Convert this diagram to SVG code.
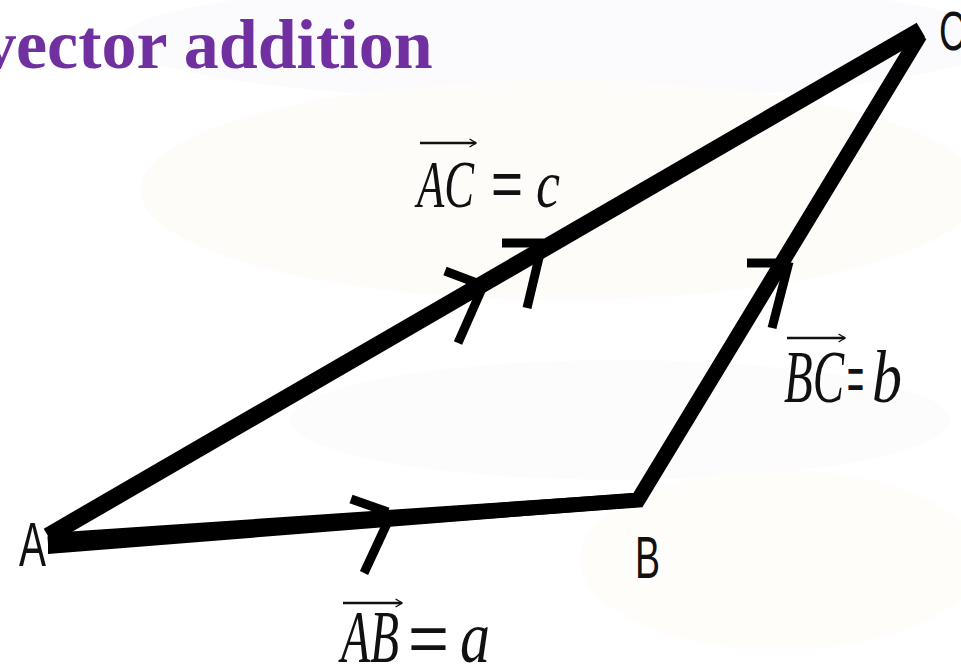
<svg xmlns="http://www.w3.org/2000/svg" width="961" height="669" viewBox="0 0 961 669">
  <defs>
    <style>
      .edge { fill: none; stroke: #000; stroke-linecap: butt; }
      .tick { fill: none; stroke: #000; stroke-width: 9; stroke-linecap: butt; }
      .over { fill: none; stroke: #111; stroke-width: 2.6; }
      .math { font-family: "Liberation Serif", "Times New Roman", serif; font-style: italic; fill: #111; }
      .eq { font-family: "Liberation Sans", Arial, sans-serif; fill: #111; }
      .vlab { font-family: "Liberation Sans", Arial, sans-serif; fill: #111; }
      .title { font-family: "Liberation Serif", "Times New Roman", serif; font-weight: bold; fill: #7030A0; }
    </style>
    <marker id="oa" viewBox="0 0 10 12" refX="9" refY="6" markerWidth="8" markerHeight="11" markerUnits="userSpaceOnUse" orient="auto">
      <path d="M1,1 L9,6 L1,11" fill="none" stroke="#111" stroke-width="1.8"/>
    </marker>
  </defs>

  <!-- background with faint watermark tint -->
  <rect x="0" y="0" width="961" height="669" fill="#ffffff"/>
  <g id="watermark">
    <ellipse cx="560" cy="40" rx="440" ry="60" fill="#fbfbfd"/>
    <ellipse cx="560" cy="190" rx="420" ry="110" fill="#fefcf9"/>
    <ellipse cx="620" cy="420" rx="330" ry="60" fill="#fcfcfd"/>
    <ellipse cx="780" cy="560" rx="200" ry="90" fill="#fefdfa"/>
  </g>

  <g id="title">
    <text class="title" x="-19" y="68" font-size="70">vector addition</text>
  </g>

  <g id="connectors">
    <!-- A -> B -> C -->
    <polyline class="edge" points="48,544 638,500 920,35" stroke-width="15" stroke-linejoin="miter" stroke-miterlimit="6"/>
    <polygon points="48,533 638,493 638,507 48,554" fill="#000"/>
    <!-- A -> C -->
    <line class="edge" x1="48" y1="536" x2="921" y2="30" stroke-width="17"/>
    <!-- direction ticks on AC -->
    <path class="tick" d="M445,271 L482,285"/>
    <path class="tick" d="M484,284 L458,343"/>
    <path class="tick" d="M502,243 L544,243" stroke-width="10"/>
    <path class="tick" d="M542,245 L527,308" stroke-width="8"/>
    <!-- direction tick on BC -->
    <path class="tick" d="M747,263 L790,263" stroke-width="10"/>
    <path class="tick" d="M789,262 L772,328" stroke-width="8"/>
    <!-- direction tick on AB -->
    <path class="tick" d="M351,499 L388,512"/>
    <path class="tick" d="M390,517 L364,573"/>
  </g>

  <g id="node-A">
    <text class="vlab" x="19" y="566" font-size="63" textLength="27" lengthAdjust="spacingAndGlyphs">A</text>
  </g>
  <g id="node-B">
    <text class="vlab" x="635" y="578" font-size="60" textLength="25" lengthAdjust="spacingAndGlyphs">B</text>
  </g>
  <g id="node-C">
    <text class="vlab" x="939" y="50" font-size="56" textLength="27" lengthAdjust="spacingAndGlyphs">C</text>
  </g>

  <g id="label-AC">
    <path class="over" d="M420,143 L476,143" marker-end="url(#oa)"/>
    <text class="math" x="417" y="207" font-size="68" textLength="57" lengthAdjust="spacingAndGlyphs">AC</text>
    <text class="eq" x="491" y="206" font-size="64" textLength="32" lengthAdjust="spacingAndGlyphs">=</text>
    <text class="math" x="536" y="207" font-size="68" textLength="24" lengthAdjust="spacingAndGlyphs">c</text>
  </g>

  <g id="label-BC">
    <path class="over" d="M787,338 L845,338" marker-end="url(#oa)"/>
    <text class="math" x="784" y="402" font-size="74" textLength="60" lengthAdjust="spacingAndGlyphs">BC</text>
    <text class="eq" x="847" y="401" font-size="64" textLength="17" lengthAdjust="spacingAndGlyphs">=</text>
    <text class="math" x="872" y="402" font-size="74" textLength="30" lengthAdjust="spacingAndGlyphs">b</text>
  </g>

  <g id="label-AB">
    <path class="over" d="M343,603 L402,603" marker-end="url(#oa)"/>
    <text class="math" x="341" y="662" font-size="74" textLength="58" lengthAdjust="spacingAndGlyphs">AB</text>
    <text class="eq" x="408" y="661" font-size="66" textLength="41" lengthAdjust="spacingAndGlyphs">=</text>
    <text class="math" x="460" y="662" font-size="74" textLength="30" lengthAdjust="spacingAndGlyphs">a</text>
  </g>
</svg>
